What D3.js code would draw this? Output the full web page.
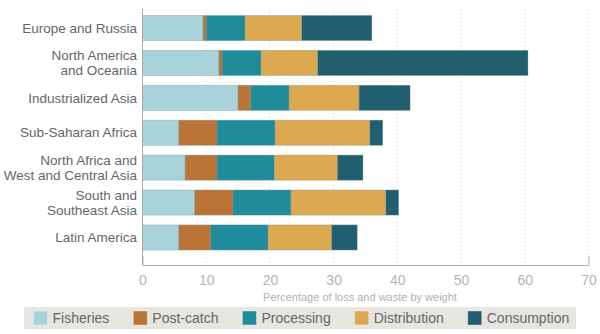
<!DOCTYPE html>
<html lang="en">
<head>
<meta charset="utf-8"/>
<title>Fish loss and waste by region</title>
<style>
  body { margin: 0; background: #fff; }
  svg text { font-family: "Liberation Sans", Arial, sans-serif; }
</style>
</head>
<body>
<div id="chart"></div>
<script src="https://d3js.org/d3.v7.min.js"></script>
<script>
  // region labels (\n = line break) and stage values, top to bottom
  const regions = [
    "Europe and Russia",
    "North America\nand Oceania",
    "Industrialized Asia",
    "Sub-Saharan Africa",
    "North Africa and\nWest and Central Asia",
    "South and\nSoutheast Asia",
    "Latin America"
  ];
  const fisheries    = [9.5, 12.0, 15.0, 5.7, 6.7, 8.2, 5.7];
  const postCatch    = [0.5, 0.5, 2.0, 6.0, 5.0, 6.0, 5.0];
  const processing   = [6.1, 6.1, 6.0, 9.1, 9.0, 9.1, 9.0];
  const distribution = [8.9, 8.9, 11.0, 14.9, 9.9, 14.9, 10.0];
  const consumption  = [11.0, 33.0, 8.0, 2.0, 4.0, 2.0, 4.0];

  const stages = ["Fisheries", "Post-catch", "Processing", "Distribution", "Consumption"];
  const colors = ["#a9d3da", "#ba7436", "#1f8b9b", "#dca951", "#215e6f"];
  const xTicks = [0, 10, 20, 30, 40, 50, 60, 70];
  const xTitle = "Percentage of loss and waste by weight";

  const width = 600, height = 334;
  const svg = d3.select("#chart").append("svg")
      .attr("width", width)
      .attr("height", height);

  const x = d3.scaleLinear().domain([0, 70]).range([142.5, 588.5]);
  const y = d3.scaleBand().domain(regions).range([5, 260.5])
      .paddingInner(0.28).paddingOuter(0.3);

  const rows = regions.map((r, i) => ({
    region: r,
    Fisheries: fisheries[i],
    "Post-catch": postCatch[i],
    Processing: processing[i],
    Distribution: distribution[i],
    Consumption: consumption[i]
  }));
  const series = d3.stack().keys(stages)(rows);

  // dotted gridlines
  svg.append("g")
    .selectAll("line")
    .data(xTicks.slice(1))
    .join("line")
      .attr("x1", d => x(d)).attr("x2", d => x(d))
      .attr("y1", 9).attr("y2", 265)
      .attr("stroke", "#cfcfcf")
      .attr("stroke-dasharray", "1,3");

  // bars
  svg.append("g")
    .selectAll("g")
    .data(series)
    .join("g")
      .attr("fill", (d, i) => colors[i])
    .selectAll("rect")
    .data(d => d)
    .join("rect")
      .attr("x", d => x(d[0]))
      .attr("width", d => x(d[1]) - x(d[0]))
      .attr("y", d => y(d.data.region))
      .attr("height", y.bandwidth())
      .attr("stroke", "rgba(120,150,160,0.45)")
      .attr("stroke-width", 0.8);

  // x axis
  const xAxis = svg.append("g")
      .attr("transform", "translate(0,265)")
      .call(d3.axisBottom(x).tickValues(xTicks).tickSizeInner(0).tickSizeOuter(-9).tickPadding(10));
  xAxis.select(".domain").attr("stroke", "#b0b0b0");
  xAxis.selectAll("text")
      .attr("fill", "#b3b3b3")
      .attr("font-size", 14)
      .attr("font-family", "Liberation Sans, Arial, sans-serif");

  svg.append("text")
      .attr("x", 360).attr("y", 301)
      .attr("text-anchor", "middle")
      .attr("font-size", 11)
      .attr("fill", "#b0b0b0")
      .text(xTitle);

  // y axis line
  svg.append("line")
      .attr("x1", 142.5).attr("x2", 142.5)
      .attr("y1", 9).attr("y2", 265)
      .attr("stroke", "#a8a8a8");

  // region labels
  const labels = svg.append("g")
    .selectAll("text")
    .data(regions)
    .join("text")
      .attr("x", 137)
      .attr("text-anchor", "end")
      .attr("font-size", 13.5)
      .attr("fill", "#666");
  labels.each(function(d) {
    const lines = d.split("\n");
    const cy = y(d) + y.bandwidth() / 2;
    const t = d3.select(this);
    lines.forEach((ln, j) => {
      t.append("tspan")
        .attr("x", 137)
        .attr("y", cy + (j - (lines.length - 1) / 2) * 15)
        .attr("dy", "0.35em")
        .text(ln);
    });
  });

  // legend
  const legend = svg.append("g");
  legend.append("rect")
      .attr("x", 24).attr("y", 307)
      .attr("width", 552).attr("height", 22)
      .attr("fill", "#e7e5e0");
  let lx = 33.5;
  stages.forEach((s, i) => {
    legend.append("rect")
        .attr("x", lx).attr("y", 311)
        .attr("width", 14).attr("height", 14)
        .attr("fill", colors[i])
        .attr("stroke", "rgba(255,255,255,0.35)");
    const t = legend.append("text")
        .attr("x", lx + 19).attr("y", 318)
        .attr("dy", "0.35em")
        .attr("font-size", 14)
        .attr("fill", "#666")
        .text(s);
    lx += 19 + t.node().getComputedTextLength() + 24;
  });
</script>
</body>
</html>
